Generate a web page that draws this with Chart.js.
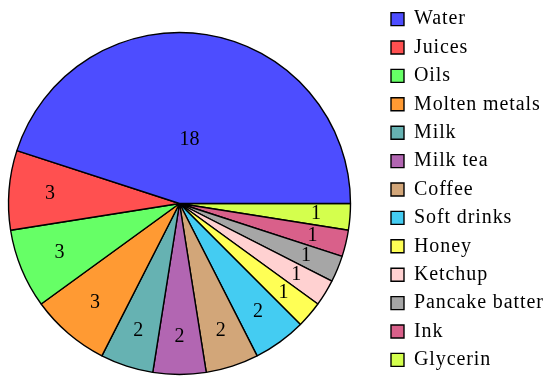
<!DOCTYPE html>
<html>
<head>
<meta charset="utf-8">
<script src="https://cdn.jsdelivr.net/npm/chart.js@4.4.0/dist/chart.umd.min.js"></script>
<style>
html,body{margin:0;padding:0;background:#fff;}
#wrap{width:550px;height:387px;}
</style>
</head>
<body>
<div id="wrap"><canvas id="c" width="550" height="387"></canvas></div>
<script>
const categories = ["Water","Juices","Oils","Molten metals","Milk","Milk tea","Coffee","Soft drinks","Honey","Ketchup","Pancake batter","Ink","Glycerin"];
const counts = [18,3,3,3,2,2,2,2,1,1,1,1,1];
const colors = ["#4d4dff","#ff5050","#66ff66","#ff9a33","#66b2b2","#b266b2","#d2a679","#44ccf2","#ffff55","#ffd1d1","#a6a6a6","#d9608a","#d4ff4d"];

// Slices run counter-clockwise from 3 o'clock; Chart.js draws clockwise, so feed reversed order.
const revLabels = categories.slice().reverse();
const revData = counts.slice().reverse();
const revColors = colors.slice().reverse();

const FONT = "'Liberation Serif', 'Times New Roman', serif";

const spacingPlugin = {
  id: 'spacing',
  beforeLayout(chart) { chart.ctx.letterSpacing = '0.9px'; },
  beforeDraw(chart) { chart.ctx.letterSpacing = '0.9px'; }
};

const placeBoxes = {
  id: 'placeBoxes',
  afterLayout(chart) {
    // pie area on the left, legend column on the right
    chart.chartArea = { left: 0, right: 359, top: 24, bottom: 383, width: 359, height: 359 };
    const lg = chart.legend;
    const w = lg.width;
    lg.left = 382.6;
    lg.right = lg.left + w;
  }
};

const sliceLabels = {
  id: 'sliceLabels',
  afterDatasetsDraw(chart) {
    const ctx = chart.ctx;
    const meta = chart.getDatasetMeta(0);
    const data = chart.data.datasets[0].data;
    const total = data.reduce((a, b) => a + b, 0);
    ctx.save();
    ctx.letterSpacing = '0px';
    ctx.font = "20px " + FONT;
    ctx.fillStyle = "#000";
    ctx.textAlign = "center";
    ctx.textBaseline = "middle";
    meta.data.forEach((arc, i) => {
      const p = arc.getProps(['x','y','startAngle','endAngle','outerRadius'], true);
      const mid = (p.startAngle + p.endAngle) / 2;
      const frac = data[i] / total;
      const k = frac > 0.3 ? 0.375 : (0.82 - 0.8 * frac);
      const r = p.outerRadius * k;
      ctx.fillText(String(data[i]), p.x + Math.cos(mid) * r, p.y + Math.sin(mid) * r);
    });
    ctx.restore();
  }
};

new Chart(document.getElementById('c'), {
  type: 'pie',
  data: {
    labels: revLabels,
    datasets: [{
      data: revData,
      backgroundColor: revColors,
      borderColor: '#000',
      borderWidth: 1.4
    }]
  },
  options: {
    responsive: false,
    animation: false,
    rotation: 90,
    radius: 171,
    layout: { padding: { left: 0, right: 0, top: -4, bottom: 4 } },
    plugins: {
      tooltip: { enabled: false },
      legend: {
        position: 'right',
        reverse: true,
        labels: {
          boxWidth: 13,
          boxHeight: 13,
          padding: 8.4,
          color: '#000',
          font: { family: FONT, size: 20 }
        }
      }
    }
  },
  plugins: [spacingPlugin, placeBoxes, sliceLabels]
});
</script>
</body>
</html>
